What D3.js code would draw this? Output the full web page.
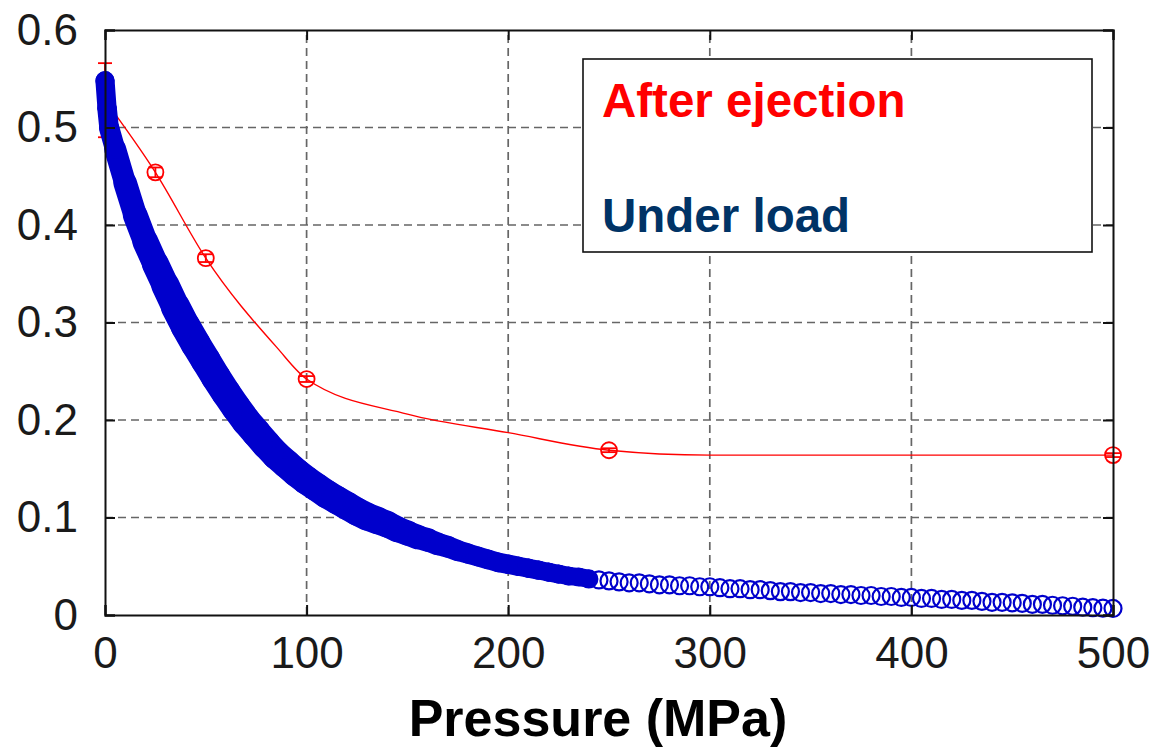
<!DOCTYPE html>
<html>
<head>
<meta charset="utf-8">
<script src="https://cdn.jsdelivr.net/npm/d3@7"></script>
<style>
  body { margin: 0; background: #fff; }
  svg { display: block; font-family: "Liberation Sans", Arial, Helvetica, sans-serif; }
</style>
</head>
<body>
<svg width="1159" height="750"></svg>
<script>
// ---- data ----
// "Under load" (blue open circles)
const loadPressure = [0, 1, 2, 5, 10, 15, 20, 25, 30, 35, 40, 45, 50, 55, 60, 65, 70, 75, 80, 85, 90, 95,
  100, 105, 110, 115, 120, 125, 130, 135, 140, 145, 150, 155, 160, 165, 170, 175, 180, 185, 190, 195,
  200, 205, 210, 215, 220, 225, 230, 235, 240, 245, 250, 255, 260, 265, 270, 275, 280, 285, 290, 295,
  300, 305, 310, 315, 320, 325, 330, 335, 340, 345, 350, 355, 360, 365, 370, 375, 380, 385, 390, 395,
  400, 405, 410, 415, 420, 425, 430, 435, 440, 445, 450, 455, 460, 465, 470, 475, 480, 485, 490, 495, 500];
const loadValue = [0.548, 0.52, 0.50, 0.478, 0.443, 0.410, 0.383, 0.360, 0.338, 0.316, 0.296, 0.278, 0.261, 0.244, 0.228, 0.213, 0.199, 0.187, 0.175, 0.164, 0.155, 0.146,
  0.138, 0.131, 0.124, 0.118, 0.112, 0.106, 0.101, 0.097, 0.093, 0.088, 0.084, 0.080, 0.077, 0.073, 0.070, 0.066, 0.063, 0.060, 0.057, 0.054,
  0.052, 0.050, 0.048, 0.046, 0.044, 0.042, 0.040, 0.039, 0.037, 0.036, 0.035, 0.034, 0.033, 0.033, 0.032, 0.031, 0.031, 0.030, 0.030, 0.029,
  0.029, 0.028, 0.027, 0.027, 0.026, 0.026, 0.025, 0.024, 0.024, 0.023, 0.023, 0.022, 0.022, 0.021, 0.021, 0.020, 0.020, 0.019, 0.019, 0.018,
  0.018, 0.017, 0.017, 0.016, 0.016, 0.015, 0.015, 0.014, 0.013, 0.013, 0.0125, 0.012, 0.011, 0.011, 0.010, 0.0095, 0.009, 0.008, 0.0075, 0.007, 0.0067];

// "After ejection" (red markers with error bars)
const ejectPressure = [0, 25, 50, 100, 250, 500];
const ejectValue = [0.528, 0.454, 0.366, 0.242, 0.169, 0.164];
const ejectErrLow = [0.49, 0.449, 0.362, 0.239, 0.167, 0.162];
const ejectErrHigh = [0.566, 0.459, 0.370, 0.245, 0.171, 0.166];
// red fitted line through the markers
const ejectLineP = [0, 25, 50, 85, 100, 150, 200, 250, 300, 500];
const ejectLineV = [0.528, 0.454, 0.366, 0.275, 0.242, 0.206, 0.187, 0.169, 0.164, 0.164];

const xTicks = [0, 100, 200, 300, 400, 500];
const yTicks = [0, 0.1, 0.2, 0.3, 0.4, 0.5, 0.6];
const legendLabels = ["After ejection", "Under load"];

// ---- layout ----
const margin = { top: 30, right: 46, bottom: 135, left: 105 };
const width = 1159;
const height = 750;

const blue = "#0000cc";
const red = "#ff0000";

const xScale = d3.scaleLinear().domain([0, 500]).range([margin.left, width - margin.right]);
const yScale = d3.scaleLinear().domain([0, 0.6]).range([height - margin.bottom, margin.top]);

const svg = d3.select("svg");

// grid
const grid = svg.append("g").attr("stroke", "#666").attr("stroke-width", 1.7).attr("stroke-dasharray", "8,5");
grid.selectAll("line.gx")
  .data(xTicks.slice(1, -1))
  .enter()
  .append("line")
  .attr("x1", d => xScale(d)).attr("x2", d => xScale(d))
  .attr("y1", yScale(0)).attr("y2", yScale(0.6));
grid.selectAll("line.gy")
  .data(yTicks.slice(1, -1))
  .enter()
  .append("line")
  .attr("y1", d => yScale(d)).attr("y2", d => yScale(d))
  .attr("x1", xScale(0)).attr("x2", xScale(500));

// red line + markers (after ejection), drawn under the blue band
const ejectLineData = ejectLineP.map((p, i) => ({ p: p, v: ejectLineV[i] }));
svg.append("path")
  .datum(ejectLineData)
  .attr("d", d3.line().x(d => xScale(d.p)).y(d => yScale(d.v)).curve(d3.curveMonotoneX))
  .attr("fill", "none")
  .attr("stroke", red)
  .attr("stroke-width", 1.4);

const ejectData = ejectPressure.map((p, i) => ({ p: p, v: ejectValue[i], lo: ejectErrLow[i], hi: ejectErrHigh[i] }));
const marks = svg.append("g").attr("stroke", red).attr("fill", "none").attr("stroke-width", 1.8);
ejectData.forEach(d => {
  const cx = xScale(d.p);
  marks.append("line").attr("x1", cx).attr("x2", cx).attr("y1", yScale(d.lo)).attr("y2", yScale(d.hi));
  marks.append("line").attr("x1", cx - 7).attr("x2", cx + 7).attr("y1", yScale(d.lo)).attr("y2", yScale(d.lo));
  marks.append("line").attr("x1", cx - 7).attr("x2", cx + 7).attr("y1", yScale(d.hi)).attr("y2", yScale(d.hi));
  if (d.p > 0) {
    marks.append("circle").attr("cx", cx).attr("cy", yScale(d.v)).attr("r", 8);
  }
});

// blue band (under load): overlapping circles merge into a solid band where the
// points crowd together, drawn as round-capped segments of varying thickness
const loadData = loadPressure.map((p, i) => ({ p: p, v: loadValue[i] }));
const bandWidth = d3.scaleLinear()
  .domain([0, 10, 40, 130, 180, 240])
  .range([19, 23, 30, 28, 20, 18])
  .clamp(true);
const segs = d3.pairs(loadData).filter(s => s[1].p <= 240);

svg.append("g")
  .selectAll("line")
  .data(segs)
  .enter()
  .append("line")
  .attr("x1", d => xScale(d[0].p))
  .attr("y1", d => yScale(d[0].v))
  .attr("x2", d => xScale(d[1].p))
  .attr("y2", d => yScale(d[1].v))
  .attr("stroke", blue)
  .attr("stroke-width", d => bandWidth((d[0].p + d[1].p) / 2))
  .attr("stroke-linecap", "round");

svg.selectAll("circle.load")
  .data(loadData)
  .enter()
  .append("circle")
  .attr("class", "load")
  .attr("cx", d => xScale(d.p))
  .attr("cy", d => yScale(d.v))
  .attr("r", 8.5)
  .attr("fill", "none")
  .attr("stroke", blue)
  .attr("stroke-width", 2.2);

// frame + inward ticks
const xAxis = d3.axisBottom(xScale).tickValues(xTicks).tickSize(-10).tickPadding(22).tickFormat(d3.format("d"));
const yAxis = d3.axisLeft(yScale).tickValues(yTicks).tickSize(-10).tickPadding(27).tickFormat(d => d === 0 ? "0" : d3.format(".1f")(d));
const xAxisTop = d3.axisTop(xScale).tickValues(xTicks).tickSize(-10).tickFormat("");
const yAxisRight = d3.axisRight(yScale).tickValues(yTicks).tickSize(-10).tickFormat("");

function styleAxis(g) {
  g.select(".domain").attr("stroke", "#111").attr("stroke-width", 2);
  g.selectAll(".tick line").attr("stroke", "#111").attr("stroke-width", 2);
  g.selectAll(".tick text").attr("fill", "#1a1a1a").attr("font-size", 44);
}

svg.append("g").attr("transform", `translate(0, ${yScale(0)})`).call(xAxis).call(styleAxis);
svg.append("g").attr("transform", `translate(${xScale(0)}, 0)`).call(yAxis).call(styleAxis);
svg.append("g").attr("transform", `translate(0, ${yScale(0.6)})`).call(xAxisTop).call(styleAxis);
svg.append("g").attr("transform", `translate(${xScale(500)}, 0)`).call(yAxisRight).call(styleAxis);

// axis title
svg.append("text")
  .attr("x", 598)
  .attr("y", 736)
  .attr("text-anchor", "middle")
  .attr("font-size", 52)
  .attr("font-weight", "bold")
  .attr("fill", "#000")
  .text("Pressure (MPa)");

// legend box
const legend = svg.append("g");
legend.append("rect")
  .attr("x", 583).attr("y", 59).attr("width", 509).attr("height", 193)
  .attr("fill", "#fff").attr("stroke", "#111").attr("stroke-width", 1.6);
legend.selectAll("text")
  .data(legendLabels)
  .enter()
  .append("text")
  .attr("x", 602)
  .attr("y", (d, i) => 117 + i * 115)
  .attr("font-size", 47.5)
  .attr("font-weight", "bold")
  .attr("fill", (d, i) => i === 0 ? red : "#003366")
  .text(d => d);
</script>
</body>
</html>
